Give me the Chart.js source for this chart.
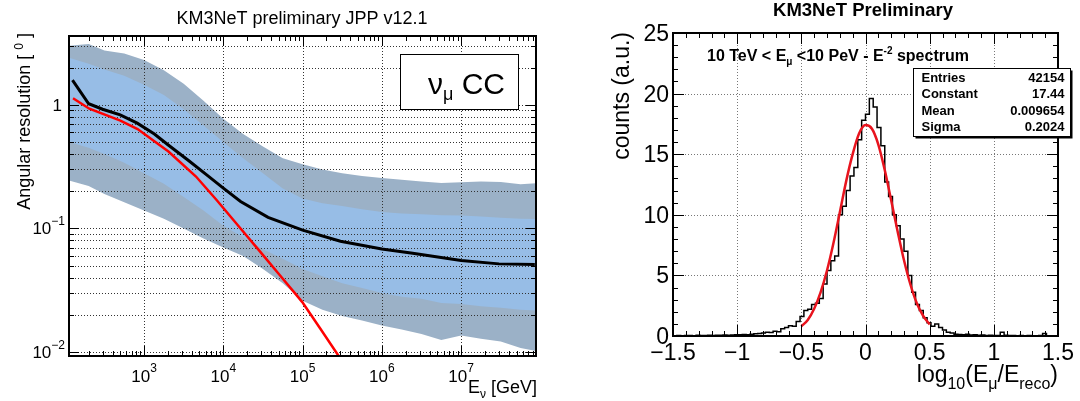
<!DOCTYPE html>
<html>
<head>
<meta charset="utf-8">
<title>KM3NeT performance</title>
<script src="https://cdn.jsdelivr.net/npm/chart.js@4.4.1/dist/chart.umd.min.js"></script>
<style>
  body { margin: 0; background: #fff; }
  #wrap { position: relative; width: 1080px; height: 401px; }
  canvas { position: absolute; top: 0; }
  #left { left: 0; }
  #right { left: 545px; }
</style>
</head>
<body>
<div id="wrap">
  <canvas id="left" width="545" height="401"></canvas>
  <canvas id="right" width="535" height="401"></canvas>
</div>
<script>
// ---- left panel: angular resolution [deg] vs neutrino energy [GeV] ----
const bandEnergy = [112, 200, 316, 562, 1000, 1778, 3162, 5623, 1e4, 1.778e4, 3.162e4, 5.623e4, 1e5,
  1.778e5, 3.162e5, 5.623e5, 1e6, 1.778e6, 3.162e6, 5.623e6, 1e7, 1.778e7, 3.162e7, 5.623e7, 8.9e7];
const outerUpper = [3.0, 3.1, 2.75, 2.6, 2.3, 1.9, 1.48, 1.08, 0.77, 0.58, 0.46, 0.37, 0.33,
  0.30, 0.28, 0.265, 0.256, 0.248, 0.24, 0.233, 0.236, 0.24, 0.238, 0.228, 0.232];
const innerUpper = [2.41, 2.15, 1.93, 1.72, 1.45, 1.2, 0.92, 0.68, 0.5, 0.37, 0.28, 0.21, 0.175,
  0.16, 0.152, 0.143, 0.136, 0.132, 0.13, 0.128, 0.127, 0.125, 0.122, 0.12, 0.119];
const innerLower = [0.5, 0.45, 0.4, 0.34, 0.28, 0.23, 0.18, 0.14, 0.105, 0.085, 0.068, 0.057, 0.047,
  0.041, 0.036, 0.033, 0.030, 0.028, 0.027, 0.025, 0.0245, 0.0235, 0.0228, 0.022, 0.0217];
const outerLower = [0.245, 0.22, 0.19, 0.163, 0.14, 0.12, 0.1, 0.083, 0.07, 0.06, 0.047, 0.036, 0.026,
  0.022, 0.0196, 0.018, 0.0164, 0.0152, 0.014, 0.0125, 0.0136, 0.0128, 0.0122, 0.0108, 0.0102];

const medianEnergy = [125, 200, 300, 500, 820, 1350, 2000, 3670, 6000, 1e4, 1.65e4, 3.67e4, 1e5,
  3e5, 1e6, 2.45e6, 1e7, 3e7, 8.5e7];
const medianRes = [1.58, 1.02, 0.92, 0.83, 0.71, 0.58, 0.475, 0.353, 0.275, 0.212, 0.165, 0.123, 0.097,
  0.0787, 0.0683, 0.063, 0.055, 0.0517, 0.051];

const redEnergy = [127, 204, 503, 828, 2030, 4520, 8220, 1.65e4, 2.91e4, 5.2e4, 9.86e4, 1.66e5, 2.85e5, 3.3e5];
const redRes = [1.13, 0.93, 0.746, 0.636, 0.419, 0.263, 0.170, 0.1, 0.0649, 0.0416, 0.0255, 0.0156, 0.0093, 0.0081];

const leftXDecades = [3, 4, 5, 6, 7];
const leftYLabels = [[1, '1', ''], [0.1, '10', '\u22121'], [0.01, '10', '\u22122']];

// ---- right panel: log10(E_mu / E_reco) histogram ----
const binLow = -1.5, binWidth = 0.03;
const histCounts = [
  0.02, 0.04, 0.03, 0.05, 0.04, 0.03, 0.06, 0.05, 0.04, 0.06,
  0.05, 0.07, 0.06, 0.08, 0.07, 0.09, 0.1, 0.1, 0.12, 0.1,
  0.15, 0.18, 0.2, 0.25, 0.3, 0.28, 0.4, 0.35, 0.6, 0.7,
  0.85, 0.8, 1.2, 1.6, 2.1, 2.2, 2.6, 2.7, 3.1, 4.3,
  5.4, 6.2, 6.6, 10.0, 10.7, 12.0, 13.2, 13.9, 16.2, 17.8,
  18.3, 19.6, 18.9, 17.2, 15.7, 12.7, 11.5, 10.0, 9.1, 8.0,
  7.0, 5.0, 3.6, 2.6, 2.1, 1.5, 1.1, 0.8, 1.0, 0.7,
  0.5, 0.3, 0.25, 0.15, 0.12, 0.1, 0.15, 0.08, 0.1, 0.06,
  0.08, 0.05, 0.07, 0.05, 0.04, 0.3, 0.06, 0.04, 0.05, 0.03,
  0.04, 0.03, 0.05, 0.02, 0.03, 0.04, 0.2, 0.03, 0.02, 0.03
];
const fitX = [-0.5, -0.45, -0.4, -0.35, -0.3, -0.25, -0.2, -0.15, -0.1, -0.05, 0,
  0.05, 0.1, 0.15, 0.2, 0.25, 0.3, 0.35, 0.4, 0.45, 0.5];
const fitY = [0.8, 1.32, 2.25, 3.6, 5.4, 7.65, 10.2, 12.8, 15.0, 16.7, 17.4,
  17.1, 15.8, 13.7, 11.2, 8.65, 6.25, 4.25, 2.7, 1.65, 0.95];
const rightXTicks = [-1.5, -1, -0.5, 0, 0.5, 1, 1.5];
const rightYTicks = [0, 5, 10, 15, 20, 25];
const statsRows = [['Entries', '42154'], ['Constant', '17.44'], ['Mean', '0.009654'], ['Sigma', '0.2024']];

const FONT = '"Liberation Sans", Arial, Helvetica, sans-serif';
const outerColor = '#9bb1c7';
const innerColor = '#97bde6';

function pairs(xs, ys) {
  return xs.map((x, i) => ({ x: x, y: ys[i] }));
}

function setFont(ctx, p) {
  ctx.font = (p.bold ? 'bold ' : '') + p.size + 'px ' + FONT;
}

// draw a run of text pieces (for sub/superscripts)
function drawRich(ctx, parts, x, y, align) {
  let w = 0;
  parts.forEach(p => { setFont(ctx, p); w += ctx.measureText(p.t).width; });
  let cx = align === 'right' ? x - w : align === 'center' ? x - w / 2 : x;
  ctx.textAlign = 'left';
  ctx.textBaseline = 'alphabetic';
  ctx.fillStyle = '#000';
  parts.forEach(p => {
    setFont(ctx, p);
    ctx.fillText(p.t, cx, y + (p.dy || 0));
    cx += ctx.measureText(p.t).width;
  });
}

function drawRotated(ctx, parts, x, y) {
  ctx.save();
  ctx.translate(x, y);
  ctx.rotate(-Math.PI / 2);
  drawRich(ctx, parts, 0, 0, 'right');
  ctx.restore();
}

function vline(ctx, x, y0, y1) { ctx.beginPath(); ctx.moveTo(x, y0); ctx.lineTo(x, y1); ctx.stroke(); }
function hline(ctx, y, x0, x1) { ctx.beginPath(); ctx.moveTo(x0, y); ctx.lineTo(x1, y); ctx.stroke(); }

// all 1..9 x 10^n values inside [min, max]
function logSteps(min, max) {
  const out = [];
  for (let e = Math.floor(Math.log10(min)); e <= Math.ceil(Math.log10(max)); e++) {
    for (let k = 1; k <= 9; k++) {
      const v = k * Math.pow(10, e);
      if (v >= min && v <= max) out.push({ v: v, major: k === 1 });
    }
  }
  return out;
}

const leftDecor = {
  id: 'leftDecor',
  afterDatasetDraw(chart, args) {
    // grid goes over the bands but below the two curves
    if (args.index !== 2) return;
    const { ctx, chartArea: a, scales: { x, y } } = chart;
    ctx.save();
    ctx.strokeStyle = '#333';
    ctx.lineWidth = 1;
    ctx.setLineDash([1, 2]);
    leftXDecades.forEach(e => {
      const px = Math.round(x.getPixelForValue(Math.pow(10, e))) + 0.5;
      vline(ctx, px, a.top, a.bottom);
    });
    logSteps(y.min, y.max).forEach(t => {
      const py = Math.round(y.getPixelForValue(t.v)) + 0.5;
      hline(ctx, py, a.left, a.right);
    });
    ctx.restore();
  },
  afterDraw(chart) {
    const { ctx, chartArea: a, scales: { x, y } } = chart;
    ctx.save();
    ctx.strokeStyle = '#000';
    ctx.lineWidth = 1;
    logSteps(x.min, x.max).forEach(t => {
      const px = Math.round(x.getPixelForValue(t.v)) + 0.5;
      const len = t.major ? 10 : 5;
      vline(ctx, px, a.bottom, a.bottom - len);
      vline(ctx, px, a.top, a.top + len);
    });
    logSteps(y.min, y.max).forEach(t => {
      const py = Math.round(y.getPixelForValue(t.v)) + 0.5;
      const len = t.major ? 10 : 5;
      hline(ctx, py, a.left, a.left + len);
      hline(ctx, py, a.right, a.right - len);
    });
    ctx.lineWidth = 2;
    ctx.strokeRect(a.left, a.top, a.right - a.left, a.bottom - a.top);

    leftXDecades.forEach(e => {
      const px = x.getPixelForValue(Math.pow(10, e));
      drawRich(ctx, [{ t: '10', size: 17 }, { t: String(e), size: 12, dy: -10 }], px, 382, 'center');
    });
    leftYLabels.forEach(([v, base, exp]) => {
      const py = y.getPixelForValue(v);
      const parts = [{ t: base, size: 17 }];
      if (exp) parts.push({ t: exp, size: 12, dy: -9 });
      drawRich(ctx, parts, exp ? 65 : 62, py + 6, 'right');
    });

    drawRich(ctx, [{ t: 'KM3NeT preliminary JPP v12.1', size: 18 }], 302, 24, 'center');
    drawRich(ctx, [{ t: 'E', size: 18 }, { t: '\u03bd', size: 12, dy: 5 }, { t: ' [GeV]', size: 18 }], 537, 393, 'right');
    drawRotated(ctx, [{ t: 'Angular resolution [ ', size: 18 }, { t: '0', size: 12, dy: -7 }, { t: ' ]', size: 18 }], 30, 33);

    // label box
    ctx.fillStyle = '#fff';
    ctx.fillRect(400.5, 54.5, 118, 55);
    ctx.lineWidth = 1;
    ctx.strokeRect(400.5, 54.5, 118, 55);
    drawRich(ctx, [{ t: '\u03bd', size: 30 }, { t: '\u03bc', size: 18, dy: 6 }, { t: ' CC', size: 30 }], 428, 94, 'left');
    ctx.restore();
  }
};

new Chart(document.getElementById('left'), {
  type: 'line',
  data: {
    datasets: [
      { label: 'black', data: pairs(medianEnergy, medianRes), borderColor: '#000', borderWidth: 3, fill: false },
      { label: 'red', data: pairs(redEnergy, redRes), borderColor: '#ff0000', borderWidth: 2.5, fill: false },
      { label: 'inner upper', data: pairs(bandEnergy, innerUpper), borderWidth: 0, borderColor: 'rgba(0,0,0,0)', backgroundColor: innerColor, fill: 3 },
      { label: 'inner lower', data: pairs(bandEnergy, innerLower), borderWidth: 0, borderColor: 'rgba(0,0,0,0)', fill: false },
      { label: 'outer upper', data: pairs(bandEnergy, outerUpper), borderWidth: 0, borderColor: 'rgba(0,0,0,0)', backgroundColor: outerColor, fill: 5 },
      { label: 'outer lower', data: pairs(bandEnergy, outerLower), borderWidth: 0, borderColor: 'rgba(0,0,0,0)', fill: false }
    ]
  },
  options: {
    responsive: false,
    animation: false,
    devicePixelRatio: 1,
    layout: { padding: { left: 69, right: 9, top: 36, bottom: 45 } },
    datasets: { line: { clip: 0, pointRadius: 0, tension: 0 } },
    plugins: { legend: { display: false }, tooltip: { enabled: false } },
    scales: {
      x: { type: 'logarithmic', min: 113, max: 8.8e7, display: false },
      y: { type: 'logarithmic', min: 0.0093, max: 3.6, display: false }
    }
  },
  plugins: [leftDecor]
});

// ---- right panel ----
const histPoints = histCounts.map((c, i) => ({ x: binLow + i * binWidth, y: c }));
histPoints.push({ x: binLow + histCounts.length * binWidth, y: histCounts[histCounts.length - 1] });

const rightDecor = {
  id: 'rightDecor',
  beforeDatasetsDraw(chart) {
    const { ctx, chartArea: a, scales: { x, y } } = chart;
    ctx.save();
    ctx.strokeStyle = '#777';
    ctx.lineWidth = 1;
    ctx.setLineDash([1, 2]);
    rightXTicks.forEach(v => vline(ctx, Math.round(x.getPixelForValue(v)) + 0.5, a.top, a.bottom));
    rightYTicks.forEach(v => hline(ctx, Math.round(y.getPixelForValue(v)) + 0.5, a.left, a.right));
    ctx.restore();
  },
  afterDraw(chart) {
    const { ctx, chartArea: a, scales: { x, y } } = chart;
    ctx.save();
    ctx.strokeStyle = '#000';
    ctx.lineWidth = 1;
    for (let i = 0; i <= 30; i++) {
      const v = -1.5 + i * 0.1;
      const px = Math.round(x.getPixelForValue(v)) + 0.5;
      const len = i % 5 === 0 ? 11 : 5;
      vline(ctx, px, a.bottom, a.bottom - len);
      vline(ctx, px, a.top, a.top + len);
    }
    for (let v = 0; v <= 25; v++) {
      const py = Math.round(y.getPixelForValue(v)) + 0.5;
      const len = v % 5 === 0 ? 11 : 5;
      hline(ctx, py, a.left, a.left + len);
      hline(ctx, py, a.right, a.right - len);
    }
    ctx.lineWidth = 2;
    ctx.strokeRect(a.left, a.top, a.right - a.left, a.bottom - a.top);

    rightXTicks.forEach(v => {
      const txt = (v < 0 ? '\u2212' : '') + String(Math.abs(v));
      drawRich(ctx, [{ t: txt, size: 23 }], x.getPixelForValue(v), 360, 'center');
    });
    rightYTicks.forEach(v => {
      drawRich(ctx, [{ t: String(v), size: 23 }], a.left - 4, y.getPixelForValue(v) + 8, 'right');
    });

    drawRich(ctx, [{ t: 'KM3NeT Preliminary', size: 18.5, bold: true }], 318, 16, 'center');
    drawRotated(ctx, [{ t: 'counts (a.u.)', size: 23 }], 84, 32);
    drawRich(ctx, [
      { t: 'log', size: 23 }, { t: '10', size: 16, dy: 7 }, { t: '(E', size: 23 },
      { t: '\u03bc', size: 16, dy: 7 }, { t: '/E', size: 23 }, { t: 'reco', size: 16, dy: 7 }, { t: ')', size: 23 }
    ], a.right, 382, 'right');
    drawRich(ctx, [
      { t: '10 TeV < E', size: 16, bold: true }, { t: '\u03bc', size: 10, bold: true, dy: 4 },
      { t: ' <10 PeV - E', size: 16, bold: true }, { t: '-2', size: 10, bold: true, dy: -7 },
      { t: ' spectrum', size: 16, bold: true }
    ], 162, 61, 'left');

    // stats box
    const bx = 368.5, by = 68.5, bw = 157, bh = 68;
    ctx.fillStyle = '#000';
    ctx.fillRect(bx + 2, by + 2, bw, bh);
    ctx.fillStyle = '#fff';
    ctx.fillRect(bx, by, bw, bh);
    ctx.lineWidth = 1;
    ctx.strokeRect(bx, by, bw, bh);
    statsRows.forEach(([k, v], i) => {
      const base = 82 + i * 16.4;
      drawRich(ctx, [{ t: k, size: 13, bold: true }], bx + 8, base, 'left');
      drawRich(ctx, [{ t: v, size: 13, bold: true }], bx + bw - 6, base, 'right');
    });
    ctx.restore();
  }
};

new Chart(document.getElementById('right'), {
  type: 'line',
  data: {
    datasets: [
      { label: 'fit', data: pairs(fitX, fitY), borderColor: '#e8141e', borderWidth: 2.5, cubicInterpolationMode: 'monotone', fill: false },
      { label: 'hist', data: histPoints, borderColor: '#000', borderWidth: 1.5, stepped: true, fill: false }
    ]
  },
  options: {
    responsive: false,
    animation: false,
    devicePixelRatio: 1,
    layout: { padding: { left: 128, right: 22, top: 33, bottom: 65 } },
    datasets: { line: { clip: 0, pointRadius: 0 } },
    plugins: { legend: { display: false }, tooltip: { enabled: false } },
    scales: {
      x: { type: 'linear', min: -1.5, max: 1.5, display: false },
      y: { type: 'linear', min: 0, max: 25, display: false }
    }
  },
  plugins: [rightDecor]
});
</script>
</body>
</html>
